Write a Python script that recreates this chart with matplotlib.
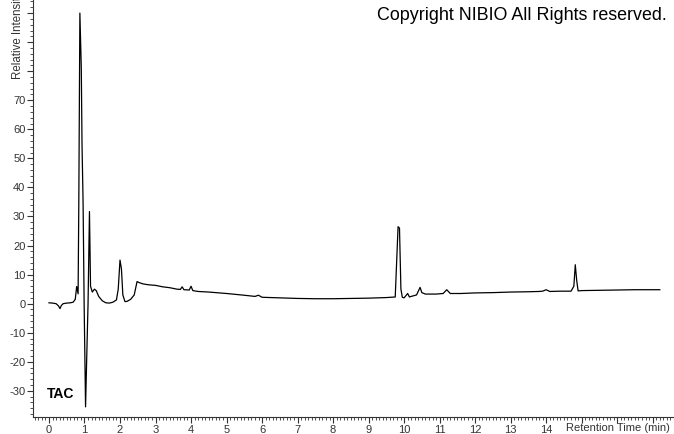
import numpy as np
import matplotlib
matplotlib.use("Agg")
import matplotlib.pyplot as plt
from matplotlib.ticker import MultipleLocator

plt.rcParams['font.family'] = ['Liberation Sans', 'DejaVu Sans']

# retention time (min) and relative intensity
tiempo = [0.0, 0.1, 0.2, 0.27, 0.31, 0.35, 0.4, 0.5, 0.6, 0.68, 0.74, 0.78, 0.82,
          0.84, 0.87, 0.91, 0.93, 0.96, 0.99, 1.03, 1.06, 1.10, 1.14, 1.17, 1.22,
          1.28, 1.33, 1.4, 1.5, 1.6, 1.7, 1.8, 1.9, 1.95, 2.0, 2.04, 2.08, 2.14,
          2.2, 2.3, 2.4, 2.48, 2.55, 2.65, 2.8, 3.0, 3.2, 3.4, 3.6, 3.7, 3.75,
          3.8, 3.95, 4.0, 4.05, 4.2, 4.5, 5.0, 5.5, 5.8, 5.9, 6.0, 6.5, 7.0, 7.5,
          8.0, 8.5, 9.0, 9.5, 9.75, 9.83, 9.87, 9.91, 9.95, 10.0, 10.1, 10.15,
          10.2, 10.35, 10.45, 10.5, 10.6, 10.9, 11.1, 11.2, 11.3, 11.6, 12.0,
          12.5, 13.0, 13.5, 13.8, 13.9, 14.0, 14.1, 14.4, 14.7, 14.78, 14.82,
          14.86, 14.9, 15.0, 15.5, 16.0, 16.5, 17.0, 17.2]
intensidade = [0.3, 0.2, 0.0, -0.8, -1.7, -0.6, 0.0, 0.2, 0.3, 0.5, 1.5, 5.9, 3.4,
               35, 100, 81, 55, 35, 0, -35.5, -20, 0, 31.7, 6, 4,
               5, 4.5, 2.5, 1.0, 0.3, 0.2, 0.5, 1.3, 5, 15, 12, 3, 0.7,
               0.8, 1.5, 3, 7.6, 7.2, 6.8, 6.5, 6.3, 5.8, 5.5, 5.0, 4.9, 5.8,
               4.8, 4.7, 6.0, 4.5, 4.2, 4.0, 3.5, 2.9, 2.5, 2.9, 2.2, 2.0, 1.8, 1.7,
               1.7, 1.8, 1.9, 2.1, 2.3, 26.5, 26, 5, 2.2, 2.0, 3.5, 2.3,
               2.5, 3.0, 5.6, 3.8, 3.3, 3.3, 3.5, 4.8, 3.5, 3.5, 3.7,
               3.8, 4.0, 4.1, 4.2, 4.3, 4.8, 4.2, 4.3, 4.3, 6, 13.4,
               8, 4.4, 4.5, 4.6, 4.7, 4.8, 4.8, 4.8]

x_ticks = list(range(0, 18))
x_labels = [str(i) if i <= 14 else '' for i in x_ticks]
y_ticks = list(range(-30, 110, 10))
y_labels = [str(v) if v <= 70 else '' for v in y_ticks]

fig = plt.figure(figsize=(6.74, 4.34), dpi=100)
ax = fig.add_axes([33 / 674, 17 / 434, 641 / 674, 417 / 434])

ax.plot(tiempo, intensidade, color='black', linewidth=0.9)

ax.set_xlim(-0.45, 17.6)
ax.set_ylim(-39, 104.5)

ax.spines['top'].set_visible(False)
ax.spines['right'].set_visible(False)
ax.spines['left'].set_color('#333333')
ax.spines['bottom'].set_color('#333333')

ax.set_xticks(x_ticks)
ax.set_xticklabels(x_labels)
ax.set_yticks(y_ticks)
ax.set_yticklabels(y_labels)
ax.xaxis.set_minor_locator(MultipleLocator(0.1))
ax.yaxis.set_minor_locator(MultipleLocator(2))
ax.tick_params(which='major', length=4, width=0.8, color='#333333',
               labelsize=8, labelcolor='#333333', pad=1.5)
ax.tick_params(which='minor', length=2.5, width=0.6, color='#333333')

fig.text(670 / 674, 1 - 428 / 434, 'Retention Time (min)', ha='right', va='center',
         fontsize=8, color='#333333')
# label runs off the top edge, as in the original
fig.text(18 / 674, 1 - 79 / 434, 'Relative Intensity', rotation=90, ha='center',
         va='bottom', fontsize=8.3, color='#333333')
fig.text(667 / 674, 1 - 15 / 434, 'Copyright NIBIO All Rights reserved.', ha='right',
         va='center', fontsize=12.9, color='black')
fig.text(47 / 674, 1 - 394 / 434, 'TAC', ha='left', va='center',
         fontsize=10, fontweight='bold')

fig.savefig('out.png', dpi=100)
